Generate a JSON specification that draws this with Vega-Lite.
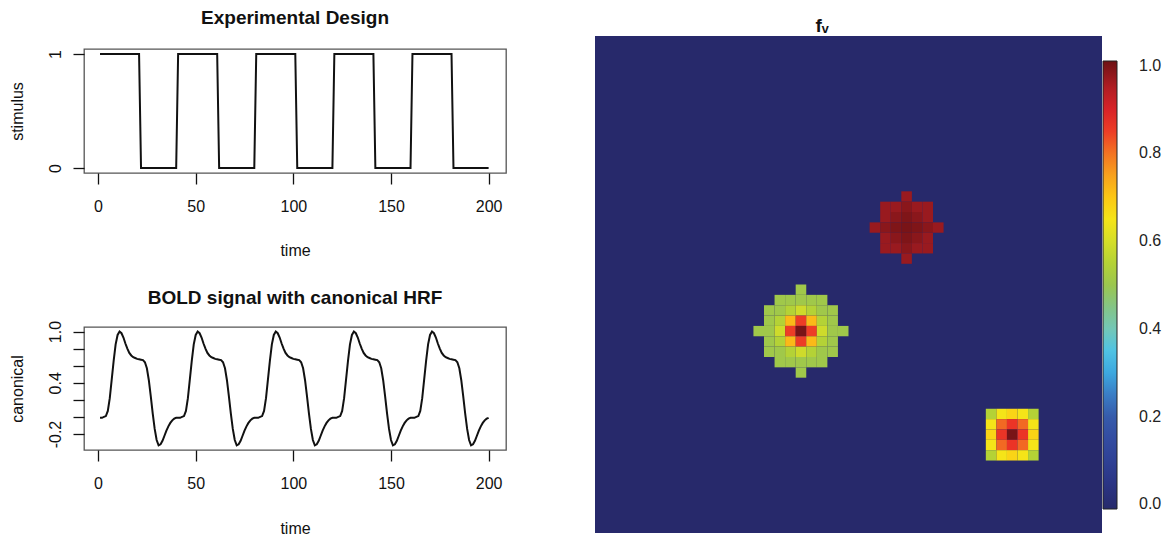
{
  "$schema": "https://vega.github.io/schema/vega-lite/v6.json",
  "background": "white",
  "padding": {"left": 8, "top": 9, "right": 5, "bottom": 0},
  "config": {
    "font": "Liberation Sans",
    "axis": {"domain": false, "grid": false, "ticks": true, "tickColor": "#111", "tickSize": 11, "tickWidth": 1.3, "labelFontSize": 16, "titleFontSize": 16, "titleFontWeight": "normal", "labelColor": "#111", "titleColor": "#111", "labelFont": "Liberation Sans", "titleFont": "Liberation Sans", "labelFlush": false, "labelOverlap": false},
    "title": {"fontSize": 19, "fontWeight": "bold", "color": "#111", "anchor": "middle", "frame": "group", "font": "Liberation Sans"},
    "view": {"stroke": "#555", "strokeWidth": 1.3}
  },
  "spacing": 88,
  "resolve": {"scale": {"color": "independent"}, "legend": {"color": "independent"}},
  "hconcat": [
    {
      "spacing": 29,
      "vconcat": [
        {
          "spacing": 11,
          "vconcat": [
            {
              "width": 422,
              "height": 1,
              "view": {"stroke": null},
              "title": {"text": "Experimental Design", "offset": 8},
              "data": {"values": []},
              "mark": {"type": "point", "opacity": 0},
              "encoding": {}
            },
            {
              "width": 422,
              "height": 124,
              "data": {"values": [
                {"time": 1, "stimulus": 1}, {"time": 21, "stimulus": 1}, {"time": 22, "stimulus": 0}, {"time": 40, "stimulus": 0},
                {"time": 41, "stimulus": 1}, {"time": 61, "stimulus": 1}, {"time": 62, "stimulus": 0}, {"time": 80, "stimulus": 0},
                {"time": 81, "stimulus": 1}, {"time": 101, "stimulus": 1}, {"time": 102, "stimulus": 0}, {"time": 120, "stimulus": 0},
                {"time": 121, "stimulus": 1}, {"time": 141, "stimulus": 1}, {"time": 142, "stimulus": 0}, {"time": 160, "stimulus": 0},
                {"time": 161, "stimulus": 1}, {"time": 181, "stimulus": 1}, {"time": 182, "stimulus": 0}, {"time": 200, "stimulus": 0}
              ]},
              "mark": {"type": "line", "color": "#111", "strokeWidth": 2},
              "encoding": {
                "x": {"field": "time", "type": "quantitative", "scale": {"domain": [-7.2, 208.9], "nice": false, "zero": false},
                      "axis": {"values": [0, 50, 100, 150, 200], "title": "time", "labelPadding": 14, "titlePadding": 28}},
                "y": {"field": "stimulus", "type": "quantitative", "scale": {"domain": [-0.044, 1.044], "nice": false, "zero": false},
                      "axis": {"values": [0, 1], "format": "d", "title": "stimulus", "labelAngle": -90, "labelAlign": "center", "labelBaseline": "alphabetic", "labelPadding": 13, "titlePadding": 22}}
              }
            }
          ]
        },
        {
          "width": 422,
          "height": 123,
          "title": {"text": "BOLD signal with canonical HRF", "offset": 12},
          "data": {"values": [
            {"t":1,"v":-0.01},{"t":2,"v":-0.01},{"t":3,"v":0.0},{"t":4,"v":0.01},{"t":5,"v":0.07},{"t":6,"v":0.22},{"t":7,"v":0.44},{"t":8,"v":0.66},{"t":9,"v":0.85},{"t":10,"v":0.96},
            {"t":11,"v":1.0},{"t":12,"v":0.98},{"t":13,"v":0.93},{"t":14,"v":0.86},{"t":15,"v":0.8},{"t":16,"v":0.75},{"t":17,"v":0.72},{"t":18,"v":0.7},{"t":19,"v":0.69},{"t":20,"v":0.68},
            {"t":21,"v":0.675},{"t":22,"v":0.67},{"t":23,"v":0.665},{"t":24,"v":0.64},{"t":25,"v":0.57},{"t":26,"v":0.43},{"t":27,"v":0.24},{"t":28,"v":0.04},{"t":29,"v":-0.14},{"t":30,"v":-0.27},
            {"t":31,"v":-0.333},{"t":32,"v":-0.32},{"t":33,"v":-0.28},{"t":34,"v":-0.22},{"t":35,"v":-0.16},{"t":36,"v":-0.11},{"t":37,"v":-0.07},{"t":38,"v":-0.04},{"t":39,"v":-0.02},{"t":40,"v":-0.01},
            {"t":41,"v":-0.01},{"t":42,"v":-0.01},{"t":43,"v":0.0},{"t":44,"v":0.01},{"t":45,"v":0.07},{"t":46,"v":0.22},{"t":47,"v":0.44},{"t":48,"v":0.66},{"t":49,"v":0.85},{"t":50,"v":0.96},
            {"t":51,"v":1.0},{"t":52,"v":0.98},{"t":53,"v":0.93},{"t":54,"v":0.86},{"t":55,"v":0.8},{"t":56,"v":0.75},{"t":57,"v":0.72},{"t":58,"v":0.7},{"t":59,"v":0.69},{"t":60,"v":0.68},
            {"t":61,"v":0.675},{"t":62,"v":0.67},{"t":63,"v":0.665},{"t":64,"v":0.64},{"t":65,"v":0.57},{"t":66,"v":0.43},{"t":67,"v":0.24},{"t":68,"v":0.04},{"t":69,"v":-0.14},{"t":70,"v":-0.27},
            {"t":71,"v":-0.333},{"t":72,"v":-0.32},{"t":73,"v":-0.28},{"t":74,"v":-0.22},{"t":75,"v":-0.16},{"t":76,"v":-0.11},{"t":77,"v":-0.07},{"t":78,"v":-0.04},{"t":79,"v":-0.02},{"t":80,"v":-0.01},
            {"t":81,"v":-0.01},{"t":82,"v":-0.01},{"t":83,"v":0.0},{"t":84,"v":0.01},{"t":85,"v":0.07},{"t":86,"v":0.22},{"t":87,"v":0.44},{"t":88,"v":0.66},{"t":89,"v":0.85},{"t":90,"v":0.96},
            {"t":91,"v":1.0},{"t":92,"v":0.98},{"t":93,"v":0.93},{"t":94,"v":0.86},{"t":95,"v":0.8},{"t":96,"v":0.75},{"t":97,"v":0.72},{"t":98,"v":0.7},{"t":99,"v":0.69},{"t":100,"v":0.68},
            {"t":101,"v":0.675},{"t":102,"v":0.67},{"t":103,"v":0.665},{"t":104,"v":0.64},{"t":105,"v":0.57},{"t":106,"v":0.43},{"t":107,"v":0.24},{"t":108,"v":0.04},{"t":109,"v":-0.14},{"t":110,"v":-0.27},
            {"t":111,"v":-0.333},{"t":112,"v":-0.32},{"t":113,"v":-0.28},{"t":114,"v":-0.22},{"t":115,"v":-0.16},{"t":116,"v":-0.11},{"t":117,"v":-0.07},{"t":118,"v":-0.04},{"t":119,"v":-0.02},{"t":120,"v":-0.01},
            {"t":121,"v":-0.01},{"t":122,"v":-0.01},{"t":123,"v":0.0},{"t":124,"v":0.01},{"t":125,"v":0.07},{"t":126,"v":0.22},{"t":127,"v":0.44},{"t":128,"v":0.66},{"t":129,"v":0.85},{"t":130,"v":0.96},
            {"t":131,"v":1.0},{"t":132,"v":0.98},{"t":133,"v":0.93},{"t":134,"v":0.86},{"t":135,"v":0.8},{"t":136,"v":0.75},{"t":137,"v":0.72},{"t":138,"v":0.7},{"t":139,"v":0.69},{"t":140,"v":0.68},
            {"t":141,"v":0.675},{"t":142,"v":0.67},{"t":143,"v":0.665},{"t":144,"v":0.64},{"t":145,"v":0.57},{"t":146,"v":0.43},{"t":147,"v":0.24},{"t":148,"v":0.04},{"t":149,"v":-0.14},{"t":150,"v":-0.27},
            {"t":151,"v":-0.333},{"t":152,"v":-0.32},{"t":153,"v":-0.28},{"t":154,"v":-0.22},{"t":155,"v":-0.16},{"t":156,"v":-0.11},{"t":157,"v":-0.07},{"t":158,"v":-0.04},{"t":159,"v":-0.02},{"t":160,"v":-0.01},
            {"t":161,"v":-0.01},{"t":162,"v":-0.01},{"t":163,"v":0.0},{"t":164,"v":0.01},{"t":165,"v":0.07},{"t":166,"v":0.22},{"t":167,"v":0.44},{"t":168,"v":0.66},{"t":169,"v":0.85},{"t":170,"v":0.96},
            {"t":171,"v":1.0},{"t":172,"v":0.98},{"t":173,"v":0.93},{"t":174,"v":0.86},{"t":175,"v":0.8},{"t":176,"v":0.75},{"t":177,"v":0.72},{"t":178,"v":0.7},{"t":179,"v":0.69},{"t":180,"v":0.68},
            {"t":181,"v":0.675},{"t":182,"v":0.67},{"t":183,"v":0.665},{"t":184,"v":0.64},{"t":185,"v":0.57},{"t":186,"v":0.43},{"t":187,"v":0.24},{"t":188,"v":0.04},{"t":189,"v":-0.14},{"t":190,"v":-0.27},
            {"t":191,"v":-0.333},{"t":192,"v":-0.32},{"t":193,"v":-0.28},{"t":194,"v":-0.22},{"t":195,"v":-0.16},{"t":196,"v":-0.11},{"t":197,"v":-0.07},{"t":198,"v":-0.04},{"t":199,"v":-0.02},{"t":200,"v":-0.01}
          ]},
          "mark": {"type": "line", "color": "#111", "strokeWidth": 2},
          "encoding": {
            "x": {"field": "t", "type": "quantitative", "title": "time", "scale": {"domain": [-7.2, 208.9], "nice": false, "zero": false},
                  "axis": {"values": [0, 50, 100, 150, 200], "labelPadding": 14, "titlePadding": 29}},
            "y": {"field": "v", "type": "quantitative", "title": "canonical", "scale": {"domain": [-0.387, 1.053], "nice": false, "zero": false},
                  "axis": {"values": [-0.2, 0, 0.2, 0.4, 0.6, 0.8, 1.0], "labelAngle": -90, "labelAlign": "center", "labelBaseline": "alphabetic", "labelPadding": 13, "titlePadding": 22,
                           "labelExpr": "abs(datum.value - 1) < 0.001 ? '1.0' : abs(datum.value - 0.4) < 0.001 ? '0.4' : abs(datum.value + 0.2) < 0.001 ? '-0.2' : ''"}}
          }
        }
      ]
    },
    {
      "width": 507,
      "height": 497,
      "view": {"stroke": null, "fill": "#27296b"},
      "title": {"text": "fᵥ", "offset": 0, "dx": -26.5, "font": "Liberation Sans, DejaVu Sans"},
      "data": {"values": [
        {"c":19,"r":24,"v":0.51},
        {"c":17,"r":25,"v":0.51},{"c":18,"r":25,"v":0.51},{"c":19,"r":25,"v":0.51},{"c":20,"r":25,"v":0.51},{"c":21,"r":25,"v":0.51},
        {"c":16,"r":26,"v":0.51},{"c":17,"r":26,"v":0.51},{"c":18,"r":26,"v":0.55},{"c":19,"r":26,"v":0.59},{"c":20,"r":26,"v":0.55},{"c":21,"r":26,"v":0.51},{"c":22,"r":26,"v":0.51},
        {"c":16,"r":27,"v":0.51},{"c":17,"r":27,"v":0.55},{"c":18,"r":27,"v":0.72},{"c":19,"r":27,"v":0.85},{"c":20,"r":27,"v":0.72},{"c":21,"r":27,"v":0.55},{"c":22,"r":27,"v":0.51},
        {"c":15,"r":28,"v":0.51},{"c":16,"r":28,"v":0.51},{"c":17,"r":28,"v":0.59},{"c":18,"r":28,"v":0.85},{"c":19,"r":28,"v":1.0},{"c":20,"r":28,"v":0.85},{"c":21,"r":28,"v":0.59},{"c":22,"r":28,"v":0.51},{"c":23,"r":28,"v":0.51},
        {"c":16,"r":29,"v":0.51},{"c":17,"r":29,"v":0.55},{"c":18,"r":29,"v":0.72},{"c":19,"r":29,"v":0.85},{"c":20,"r":29,"v":0.72},{"c":21,"r":29,"v":0.55},{"c":22,"r":29,"v":0.51},
        {"c":16,"r":30,"v":0.51},{"c":17,"r":30,"v":0.51},{"c":18,"r":30,"v":0.55},{"c":19,"r":30,"v":0.59},{"c":20,"r":30,"v":0.55},{"c":21,"r":30,"v":0.51},{"c":22,"r":30,"v":0.51},
        {"c":17,"r":31,"v":0.51},{"c":18,"r":31,"v":0.51},{"c":19,"r":31,"v":0.51},{"c":20,"r":31,"v":0.51},{"c":21,"r":31,"v":0.51},
        {"c":19,"r":32,"v":0.51},
        {"c":29,"r":15,"v":0.972},
        {"c":27,"r":16,"v":0.972},{"c":28,"r":16,"v":0.972},{"c":29,"r":16,"v":0.985},{"c":30,"r":16,"v":0.972},{"c":31,"r":16,"v":0.972},
        {"c":27,"r":17,"v":0.972},{"c":28,"r":17,"v":0.985},{"c":29,"r":17,"v":0.995},{"c":30,"r":17,"v":0.985},{"c":31,"r":17,"v":0.972},
        {"c":26,"r":18,"v":0.972},{"c":27,"r":18,"v":0.985},{"c":28,"r":18,"v":0.995},{"c":29,"r":18,"v":1.0},{"c":30,"r":18,"v":0.995},{"c":31,"r":18,"v":0.985},{"c":32,"r":18,"v":0.972},
        {"c":27,"r":19,"v":0.972},{"c":28,"r":19,"v":0.985},{"c":29,"r":19,"v":0.995},{"c":30,"r":19,"v":0.985},{"c":31,"r":19,"v":0.972},
        {"c":27,"r":20,"v":0.972},{"c":28,"r":20,"v":0.972},{"c":29,"r":20,"v":0.985},{"c":30,"r":20,"v":0.972},{"c":31,"r":20,"v":0.972},
        {"c":29,"r":21,"v":0.972},
        {"c":37,"r":36,"v":0.55},{"c":38,"r":36,"v":0.65},{"c":39,"r":36,"v":0.68},{"c":40,"r":36,"v":0.65},{"c":41,"r":36,"v":0.55},
        {"c":37,"r":37,"v":0.65},{"c":38,"r":37,"v":0.81},{"c":39,"r":37,"v":0.86},{"c":40,"r":37,"v":0.81},{"c":41,"r":37,"v":0.65},
        {"c":37,"r":38,"v":0.68},{"c":38,"r":38,"v":0.86},{"c":39,"r":38,"v":1.0},{"c":40,"r":38,"v":0.86},{"c":41,"r":38,"v":0.68},
        {"c":37,"r":39,"v":0.65},{"c":38,"r":39,"v":0.81},{"c":39,"r":39,"v":0.86},{"c":40,"r":39,"v":0.81},{"c":41,"r":39,"v":0.65},
        {"c":37,"r":40,"v":0.55},{"c":38,"r":40,"v":0.65},{"c":39,"r":40,"v":0.68},{"c":40,"r":40,"v":0.65},{"c":41,"r":40,"v":0.55}
      ]},
      "mark": {"type": "rect"},
      "encoding": {
        "x": {"field": "c", "type": "ordinal", "axis": null,
              "scale": {"domain": [0,1,2,3,4,5,6,7,8,9,10,11,12,13,14,15,16,17,18,19,20,21,22,23,24,25,26,27,28,29,30,31,32,33,34,35,36,37,38,39,40,41,42,43,44,45,46,47], "paddingInner": 0, "paddingOuter": 0}},
        "y": {"field": "r", "type": "ordinal", "axis": null,
              "scale": {"domain": [0,1,2,3,4,5,6,7,8,9,10,11,12,13,14,15,16,17,18,19,20,21,22,23,24,25,26,27,28,29,30,31,32,33,34,35,36,37,38,39,40,41,42,43,44,45,46,47], "paddingInner": 0, "paddingOuter": 0}},
        "color": {"field": "v", "type": "quantitative",
                  "scale": {"domain": [-0.0103, 0.0407, 0.0918, 0.1428, 0.1938, 0.2449, 0.2959, 0.3469, 0.398, 0.449, 0.5, 0.551, 0.6021, 0.6531, 0.7041, 0.7552, 0.8062, 0.8572, 0.9083, 0.9593, 1.0103],
                            "range": ["#272a6c", "#2a3382", "#2e3f93", "#334aa0", "#3557a8", "#3a78c2", "#3ca6de", "#4ec3e6", "#72c7b9", "#84c487", "#9bc64f", "#b4d236", "#d6de27", "#f7e417", "#fcc515", "#f89d1e", "#f26d23", "#ec3526", "#d42028", "#a81c22", "#6d1214"],
                            "interpolate": "rgb"},
                  "legend": {"orient": "none", "legendX": 508, "legendY": 25, "title": null, "padding": 0,
                             "gradientLength": 448, "gradientThickness": 14, "gradientStrokeColor": "#222", "gradientStrokeWidth": 1,
                             "values": [0, 0.2, 0.4, 0.6, 0.8, 1], "format": ".1f", "labelFontSize": 16, "labelColor": "#222", "labelOffset": 22,
                             "labelFlush": false, "labelOverlap": false, "direction": "vertical"}}
      }
    }
  ]
}
